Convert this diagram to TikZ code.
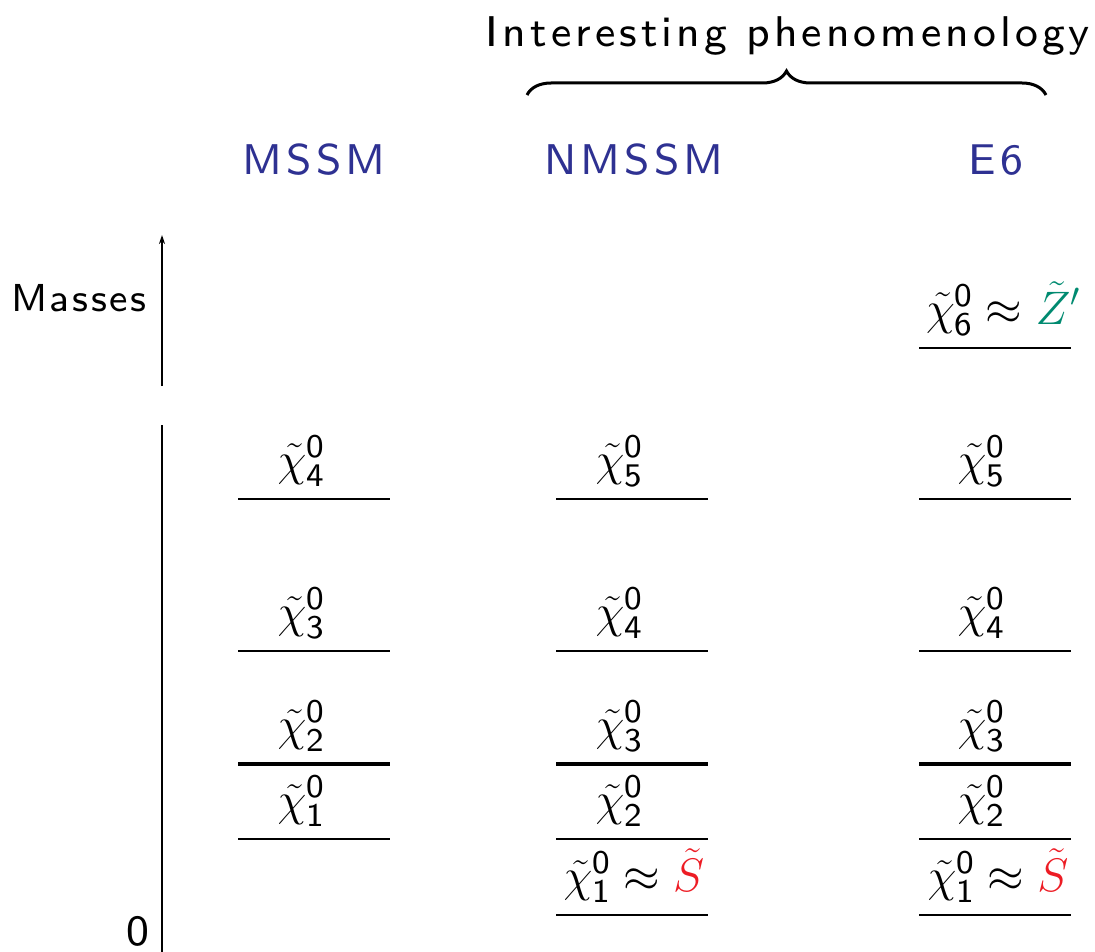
\documentclass[tikz,border=0pt]{standalone}
\usepackage{fix-cm}
\usepackage{fontspec}
\usetikzlibrary{decorations.pathreplacing,arrows.meta}
\newfontfamily\widesans[LetterSpace=9.5]{lmsans8-regular.otf}
\newfontfamily\masssans[LetterSpace=7]{lmsans8-regular.otf}
\setsansfont{lmsans8-regular.otf}
\DeclareMathSizes{47}{47}{33}{26}
\definecolor{headblue}{RGB}{46,49,146}
\definecolor{zgreen}{RGB}{0,138,112}
\definecolor{sred}{RGB}{237,28,36}
\newcommand{\nchi}[1]{\tilde\chi^{\mathsf{0}}_{\mathsf{#1}}}
\begin{document}
\begin{tikzpicture}[x=1pt,y=1pt,
  every node/.style={inner sep=0pt,outer sep=0pt,font=\fontsize{43}{50}\selectfont\widesans},
  head/.style={text=headblue,anchor=base},
  lab/.style={anchor=base,font=\fontsize{47}{54}\selectfont\widesans},
  level/.style={line width=2pt},
  thicklevel/.style={line width=3.6pt},
  axis/.style={line width=2.6pt}]
\useasboundingbox (0,0) rectangle (1095,-952);
% title and brace
\node[anchor=base] (title) at (788,-47) {Interesting phenomenology};
\draw[line width=3pt,decorate,decoration={brace,amplitude=24pt}] (527,-95) -- (1046,-95);
% headings
\node[head] (mssm) at (314,-175) {MSSM};
\node[head] (nmssm) at (634,-175) {NMSSM};
\node[head] (esix) at (996,-175) {E6};
% axis
\coordinate (atop) at (162,-235);
\coordinate (abot1) at (162,-386);
\coordinate (atop2) at (162,-425);
\coordinate (abot) at (162,-952);
\draw[axis,-{Stealth[length=9pt,width=6pt]}] (abot1) -- (atop);
\draw[axis] (atop2) -- (abot);
\node[anchor=base,font=\fontsize{39}{46}\selectfont\masssans] (masses) at (79,-311) {Masses};
\node[anchor=base] (zero) at (138,-945) {0};
% MSSM
\draw[level] (238,-499) -- (390,-499);
\draw[level] (238,-651) -- (390,-651);
\draw[thicklevel] (238,-764) -- (390,-764);
\draw[level] (238,-839) -- (390,-839);
\node[lab] (m4) at (301,-475) {$\nchi{4}$};
\node[lab] (m3) at (301,-627) {$\nchi{3}$};
\node[lab] (m2) at (301,-740) {$\nchi{2}$};
\node[lab] (m1) at (301,-815) {$\nchi{1}$};
% NMSSM
\draw[level] (556,-499) -- (708,-499);
\draw[level] (556,-651) -- (708,-651);
\draw[thicklevel] (556,-764) -- (708,-764);
\draw[level] (556,-839) -- (708,-839);
\draw[level] (556,-915) -- (708,-915);
\node[lab] (n5) at (619,-475) {$\nchi{5}$};
\node[lab] (n4) at (619,-627) {$\nchi{4}$};
\node[lab] (n3) at (619,-740) {$\nchi{3}$};
\node[lab] (n2) at (619,-815) {$\nchi{2}$};
\node[lab] (n1) at (634,-891) {$\nchi{1}\approx{\color{sred}\tilde S}$};
% E6
\draw[level] (919,-348) -- (1071,-348);
\draw[level] (919,-499) -- (1071,-499);
\draw[level] (919,-651) -- (1071,-651);
\draw[thicklevel] (919,-764) -- (1071,-764);
\draw[level] (919,-839) -- (1071,-839);
\draw[level] (919,-915) -- (1071,-915);
\node[lab] (e6) at (1003,-324) {$\nchi{6}\approx{\color{zgreen}\tilde Z'}$};
\node[lab] (e5) at (981,-475) {$\nchi{5}$};
\node[lab] (e4) at (981,-627) {$\nchi{4}$};
\node[lab] (e3) at (981,-740) {$\nchi{3}$};
\node[lab] (e2) at (981,-815) {$\nchi{2}$};
\node[lab] (e1) at (998,-891) {$\nchi{1}\approx{\color{sred}\tilde S}$};
\end{tikzpicture}
\end{document}
